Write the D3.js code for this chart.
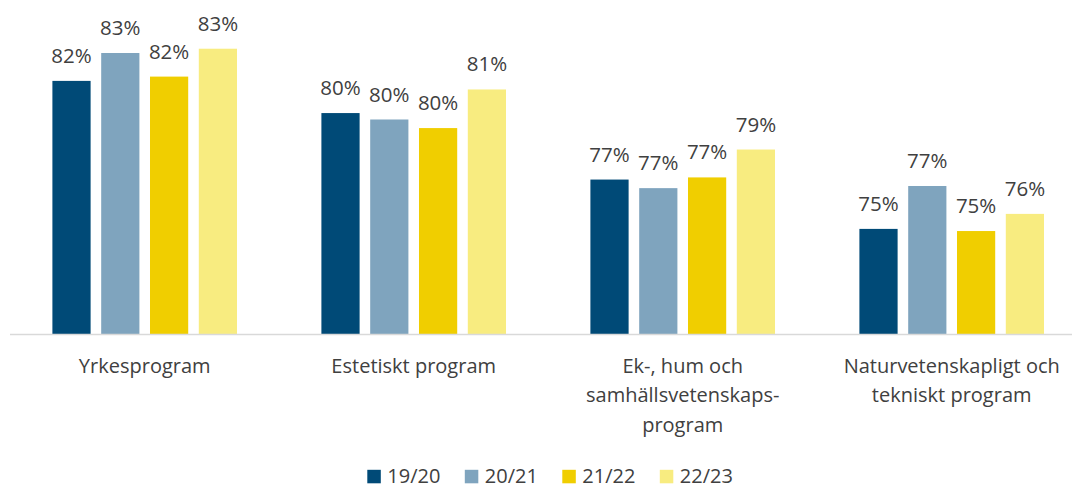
<!DOCTYPE html>
<html>
<head>
<meta charset="utf-8">
<script src="https://cdn.jsdelivr.net/npm/d3@7"></script>
<style>
  html, body { margin: 0; padding: 0; background: #ffffff; }
  svg { display: block; }
  text { font-family: "Open Sans", sans-serif; fill: #404040; }
</style>
</head>
<body>
<svg id="chart" width="1072" height="488"></svg>
<script>
// Data
const categories = [
  "Yrkesprogram",
  "Estetiskt program",
  "Ek-, hum och\nsamhällsvetenskaps-\nprogram",
  "Naturvetenskapligt och\ntekniskt program"
];
const seriesNames = ["19/20", "20/21", "21/22", "22/23"];
const values1920 = [81.8, 80.3, 77.2, 74.9];
const values2021 = [83.1, 80.0, 76.8, 76.9];
const values2122 = [82.0, 79.6, 77.3, 74.8];
const values2223 = [83.3, 81.4, 78.6, 75.6];
const colors = ["#004a77", "#7fa4be", "#f0ce00", "#f8ec80"];

const seriesValues = [values1920, values2021, values2122, values2223];
const data = categories.map((c, i) => ({
  category: c,
  items: seriesNames.map((s, j) => ({ series: s, value: seriesValues[j][i], color: colors[j] }))
}));

const svg = d3.select("#chart");
const baseline = 334;

const x0 = d3.scaleBand().domain(categories).range([10.2, 1086.2]).paddingInner(0).paddingOuter(0);
const groupWidth = 184.6;
const x1 = d3.scaleBand().domain(seriesNames).range([0, groupWidth]).paddingInner(0.217).paddingOuter(0);
const y = d3.scaleLinear().domain([70, 85]).range([baseline, baseline - 15 * 21.45]);

const fmt = v => d3.format(".0f")(v) + "%";

const groups = svg.selectAll("g.group").data(data).join("g")
  .attr("class", "group")
  .attr("transform", d => `translate(${x0(d.category) + (x0.bandwidth() - groupWidth) / 2},0)`);

groups.selectAll("rect").data(d => d.items).join("rect")
  .attr("x", d => x1(d.series))
  .attr("y", d => y(d.value))
  .attr("width", x1.bandwidth())
  .attr("height", d => baseline - y(d.value))
  .attr("fill", d => d.color);

groups.selectAll("text.val").data(d => d.items).join("text")
  .attr("class", "val")
  .attr("x", d => x1(d.series) + x1.bandwidth() / 2)
  .attr("y", d => y(d.value) - 18)
  .attr("text-anchor", "middle")
  .style("font-size", "20.5px")
  .text(d => fmt(d.value));

// Axis line
svg.append("line")
  .attr("x1", 10).attr("x2", 1072)
  .attr("y1", baseline + 0.5).attr("y2", baseline + 0.5)
  .attr("stroke", "#d9d9d9").attr("stroke-width", 1.5);

// Category labels
const catLabels = svg.selectAll("text.cat").data(categories).join("text")
  .attr("class", "cat")
  .attr("text-anchor", "middle")
  .style("font-size", "20px")
  .attr("transform", d => `translate(${x0(d) + x0.bandwidth() / 2},373)`);
catLabels.selectAll("tspan").data(d => d.split("\n")).join("tspan")
  .attr("x", 0)
  .attr("y", (d, i) => i * 29.3)
  .text(d => d);

// Legend
const legendStart = 367.3;
const legendStep = 97.5;
const legend = svg.selectAll("g.legend").data(seriesNames).join("g")
  .attr("class", "legend")
  .attr("transform", (d, i) => `translate(${legendStart + i * legendStep},469.8)`);
legend.append("rect")
  .attr("width", 13.5).attr("height", 13.5)
  .attr("fill", (d, i) => colors[i]);
legend.append("text")
  .attr("x", 20)
  .attr("y", 13.6)
  .style("font-size", "20px")
  .text(d => d);
</script>
</body>
</html>
